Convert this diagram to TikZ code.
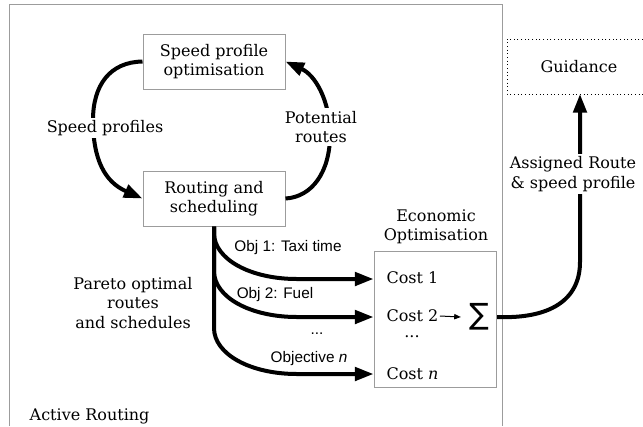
\documentclass[tikz,border=0pt]{standalone}
\usepackage{fontspec}
\setmainfont{DejaVu Serif}
\setsansfont{Liberation Sans}
\newfontfamily\symfont{DejaVu Sans}
\usepackage{tikz}
\usetikzlibrary{arrows.meta, positioning}
\definecolor{framegray}{HTML}{9C9C9C}

\begin{document}
\begin{tikzpicture}[
  x=0.75pt, y=-0.75pt,
  every node/.style={font=\fontsize{12}{14.5}\selectfont},
  box/.style={draw=framegray, fill=white, line width=0.75pt, minimum width=106.5pt,
              minimum height=41.25pt, align=center},
  guidbox/.style={minimum height=41.25pt, align=center},
  guidline/.style={draw=black, dotted, line width=0.75pt},
  frame/.style={draw=framegray, line width=0.75pt},
  conn/.style={-{Triangle[length=14pt,width=10pt]}, line width=3pt},
  smallarrow/.style={-{Triangle[length=5pt,width=4pt]}, line width=0.75pt},
  gap/.style={fill=white, align=center, inner sep=2pt},
  objlabel/.style={font=\sffamily\fontsize{11.5}{13}\selectfont, inner sep=1pt},
  cost/.style={anchor=west, inner sep=1pt},
]
\path[use as bounding box] (0,0) rectangle (643,426);

% Active routing frame
\draw[frame] (9,426) -- (9,4) -- (502,4) -- (502,426);
\node[anchor=west] (active) at (25,416) {Active Routing};

% Routing loop
\node[box] (spo) at (214,61.5) {Speed profile\\optimisation};
\node[box, below=60.75pt of spo] (rs) {Routing and\\scheduling};

\draw[conn] (spo.west) .. controls (110,62) and (93,85) .. (93,120)
  .. controls (93,160) and (105,182) .. (rs.west);
\draw[conn] (rs.east) .. controls (312,197) and (330,172) .. (330,135)
  .. controls (330,100) and (315,75) .. (spo.east);
\node[gap] (sp) at (105,128) {Speed profiles};
\node[gap] (pr) at (321,127) {Potential\\routes};

% Economic optimisation
\node[box, minimum width=91.5pt, minimum height=102pt] (econ) at (435,319) {};
\node[align=center] (econlbl) at (436,227) {Economic\\Optimisation};
\node[cost] (cost1) at (385,278) {Cost 1};
\node[cost] (cost2) at (385,316) {Cost 2};
\node (costdots) at (412,337) {...};
\node[cost] (costn) at (385,374) {Cost \textit{n}};
\node[font=\symfont\fontsize{22}{24}\selectfont, inner ysep=1pt, inner xsep=6pt] (sigma) at (479,317) {∑};
\draw[smallarrow] (cost2.east) -- (sigma.west);

% Objectives
\foreach \yy in {279, 317, 374}
  \draw[conn] (rs.south) -- (214,\yy-46) .. controls (214,\yy-20) and (250,\yy) .. (297,\yy)
    -- (econ.west |- 0,\yy);
\node[objlabel] (obj1) at (288,248) {Obj 1: Taxi time};
\node[objlabel] (obj2) at (275,295) {Obj 2: Fuel};
\node[objlabel] (objdots) at (317,334) {...};
\node[objlabel] (objn) at (309,359) {Objective \textit{n}};
\node[align=center] (pareto) at (133,303) {Pareto optimal\\routes\\and schedules};

% Guidance (box runs off the right edge)
\node[guidbox] (guid) at (579,66.5) {Guidance};
\draw[guidline] (643,39) -- (507,39) -- (507,94) -- (643,94);
\draw[conn] (sigma.east) .. controls (550,319) and (580,300) .. (580,262) -- (580,94);
\node[gap] (assigned) at (573,174) {Assigned Route\\\& speed profile};

\end{tikzpicture}
\end{document}
